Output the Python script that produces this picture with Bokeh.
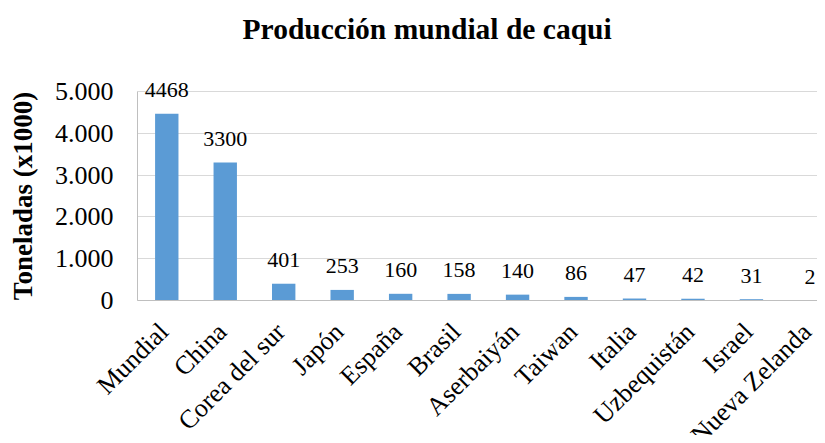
from math import pi
from bokeh.plotting import figure
from bokeh.models import ColumnDataSource, LabelSet, FixedTicker, Range1d, Label
from bokeh.core.properties import value
from bokeh.embed import file_html
from bokeh.resources import INLINE

categories = ["Mundial", "China", "Corea del sur", "Japón", "España", "Brasil",
              "Aserbaiyán", "Taiwan", "Italia", "Uzbequistán", "Israel", "Nueva Zelanda"]
values = [4468, 3300, 401, 253, 160, 158, 140, 86, 47, 42, 31, 2]
y_ticks = [0, 1000, 2000, 3000, 4000, 5000]
y_tick_labels = ["0", "1.000", "2.000", "3.000", "4.000", "5.000"]
title_text = "Producción mundial de caqui"
y_label = "Toneladas (x1000)"

FONT = "Liberation Serif"
BAR = "#5B9BD5"
AXIS = "#BFBFBF"

xs = list(range(len(categories)))
src = ColumnDataSource(dict(x=xs, top=values, label=[str(v) for v in values],
                            cat=categories))

X0, X1 = -0.5, 11.13
p = figure(width=817, height=435, output_backend="svg", toolbar_location=None,
           x_range=Range1d(-2.844, X1), y_range=Range1d(-3230, 7177),
           min_border_left=0, min_border_right=0, min_border_top=0, min_border_bottom=0)

p.vbar(x="x", top="top", width=0.4, source=src, color=BAR, line_color=None)

labels = LabelSet(x="x", y="top", text="label", source=src, text_align="center",
                  text_baseline="middle", y_offset=23.5, text_font=value(FONT),
                  text_font_size=value("22px"), text_color="#000000")
p.add_layout(labels)

p.text(x="x", y=0, text="cat", source=src, angle=pi / 4, text_align="right",
       text_baseline="middle", x_offset=-3, y_offset=27, text_font=value(FONT),
       text_font_size=value("26px"), text_color="#000000")

p.add_layout(Label(x=4.453, y=6500, text=title_text, text_align="center",
                   text_baseline="alphabetic", text_font=FONT, text_font_size="29.5px",
                   text_font_style="bold", text_color="#000000"))

p.outline_line_color = None
p.xgrid.grid_line_color = None
p.ygrid.grid_line_color = "#D9D9D9"
p.ygrid.ticker = FixedTicker(ticks=y_ticks)
p.ygrid.bounds = (0, 5000)
p.ygrid.cross_bounds = (X0, X1)

xa = p.xaxis[0]
xa.fixed_location = 0
xa.bounds = (X0, X1)
xa.ticker = FixedTicker(ticks=[])
xa.major_label_text_font_size = "0px"
xa.major_tick_out = 0
xa.major_tick_in = 0
xa.minor_tick_out = 0
xa.minor_tick_in = 0
xa.axis_line_color = AXIS

ya = p.yaxis[0]
ya.fixed_location = X0
ya.bounds = (0, 5000)
ya.ticker = FixedTicker(ticks=y_ticks)
ya.major_label_overrides = {t: l for t, l in zip(y_ticks, y_tick_labels)}
ya.major_label_text_font = FONT
ya.major_label_text_font_size = "26px"
ya.major_label_text_color = "#000000"
ya.major_tick_out = 0
ya.major_tick_in = 0
ya.minor_tick_out = 0
ya.minor_tick_in = 0
ya.major_label_standoff = 24
ya.axis_line_color = AXIS
ya.axis_label = y_label
ya.axis_label_text_font = FONT
ya.axis_label_text_font_size = "27px"
ya.axis_label_text_font_style = "bold"
ya.axis_label_text_color = "#000000"
ya.axis_label_standoff = 14

open("out.html", "w").write(file_html(p, INLINE))
